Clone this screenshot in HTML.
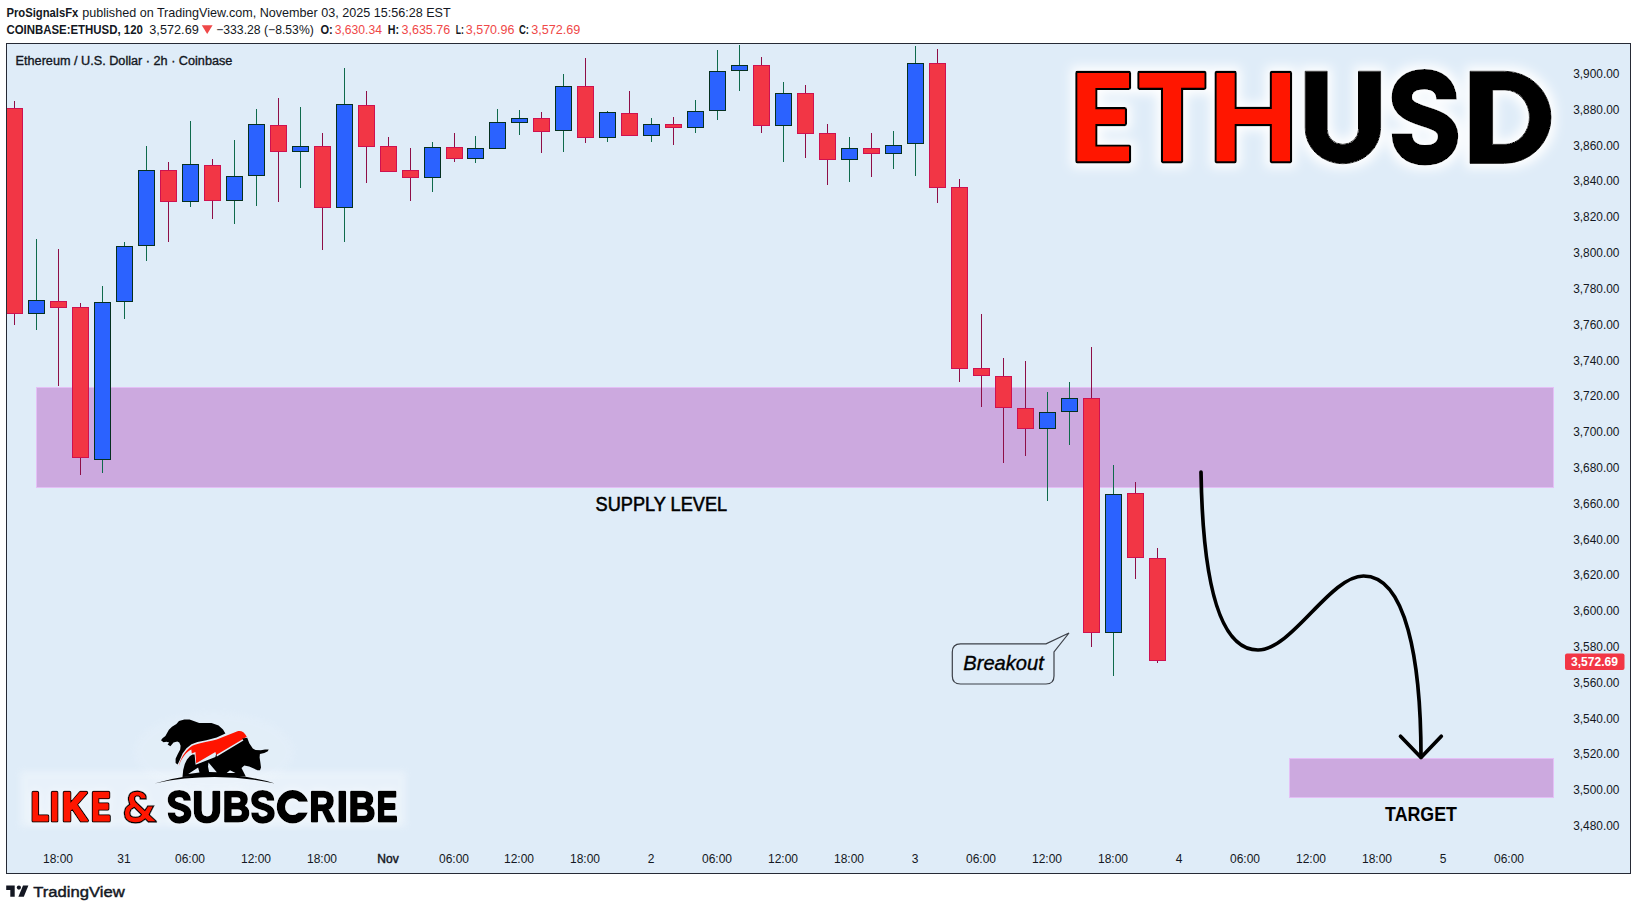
<!DOCTYPE html>
<html><head><meta charset="utf-8"><title>ETHUSD</title>
<style>
html,body{margin:0;padding:0;background:#ffffff;width:1637px;height:910px;overflow:hidden}
svg{display:block;font-family:"Liberation Sans", sans-serif}
</style></head><body>
<svg width="1637" height="910" viewBox="0 0 1637 910">
<defs>
<filter id="soft" x="-20%" y="-50%" width="140%" height="200%"><feGaussianBlur stdDeviation="3"/></filter>
<clipPath id="cclip"><path d="M270,785 H315 V801.7 H297 V812.4 H315 V830 H270 Z"/></clipPath>
<clipPath id="chartclip"><rect x="6" y="43" width="1624.5" height="830"/></clipPath>
<filter id="glow" x="-10%" y="-20%" width="120%" height="140%">
<feMorphology in="SourceAlpha" operator="dilate" radius="3.5" result="d"/>
<feGaussianBlur in="d" stdDeviation="5.5" result="b"/>
<feFlood flood-color="#ffffff" flood-opacity="1"/>
<feComposite in2="b" operator="in" result="g"/>
<feMerge><feMergeNode in="g"/><feMergeNode in="SourceGraphic"/></feMerge>
</filter>
<filter id="glow2" x="-10%" y="-30%" width="120%" height="160%">
<feGaussianBlur in="SourceAlpha" stdDeviation="4" result="b"/>
<feFlood flood-color="#ffffff" flood-opacity="0.6"/>
<feComposite in2="b" operator="in" result="g"/>
<feMerge><feMergeNode in="g"/><feMergeNode in="SourceGraphic"/></feMerge>
</filter>
</defs>
<rect x="6" y="43" width="1625" height="831" fill="#dfecf8"/>
<rect x="36.5" y="387.5" width="1517" height="100" fill="#cca9df" stroke="#e4bff6" stroke-width="1"/>
<rect x="1289.5" y="758.5" width="264" height="39" fill="#cca9df" stroke="#e4bff6" stroke-width="1"/>
<rect x="20" y="771" width="386" height="56" fill="#ffffff" opacity="0.3" filter="url(#soft)"/>
<ellipse cx="214" cy="752" rx="80" ry="40" fill="#ffffff" opacity="0.1" filter="url(#soft)"/>
<g clip-path="url(#chartclip)">
<rect x="14.0" y="101" width="1" height="7" fill="#8e0e47"/>
<rect x="14.0" y="314" width="1" height="11" fill="#8e0e47"/>
<rect x="6.5" y="108.5" width="16" height="205" fill="#f23645" stroke="#cf1150" stroke-width="1"/>
<rect x="36.0" y="239" width="1" height="61" fill="#0f6a4c"/>
<rect x="36.0" y="314" width="1" height="16" fill="#0f6a4c"/>
<rect x="28.5" y="300.5" width="16" height="13" fill="#2b62ff" stroke="#06301f" stroke-width="1"/>
<rect x="58.0" y="249" width="1" height="52" fill="#8e0e47"/>
<rect x="58.0" y="308" width="1" height="78" fill="#8e0e47"/>
<rect x="50.5" y="301.5" width="16" height="6" fill="#f23645" stroke="#cf1150" stroke-width="1"/>
<rect x="80.0" y="303" width="1" height="4" fill="#8e0e47"/>
<rect x="80.0" y="458" width="1" height="17" fill="#8e0e47"/>
<rect x="72.5" y="307.5" width="16" height="150" fill="#f23645" stroke="#cf1150" stroke-width="1"/>
<rect x="102.0" y="286" width="1" height="16" fill="#0f6a4c"/>
<rect x="102.0" y="460" width="1" height="13" fill="#0f6a4c"/>
<rect x="94.5" y="302.5" width="16" height="157" fill="#2b62ff" stroke="#06301f" stroke-width="1"/>
<rect x="124.0" y="242" width="1" height="4" fill="#0f6a4c"/>
<rect x="124.0" y="302" width="1" height="17" fill="#0f6a4c"/>
<rect x="116.5" y="246.5" width="16" height="55" fill="#2b62ff" stroke="#06301f" stroke-width="1"/>
<rect x="146.0" y="146" width="1" height="24" fill="#0f6a4c"/>
<rect x="146.0" y="246" width="1" height="15" fill="#0f6a4c"/>
<rect x="138.5" y="170.5" width="16" height="75" fill="#2b62ff" stroke="#06301f" stroke-width="1"/>
<rect x="168.0" y="162" width="1" height="8" fill="#8e0e47"/>
<rect x="168.0" y="202" width="1" height="40" fill="#8e0e47"/>
<rect x="160.5" y="170.5" width="16" height="31" fill="#f23645" stroke="#cf1150" stroke-width="1"/>
<rect x="190.0" y="121" width="1" height="43" fill="#0f6a4c"/>
<rect x="190.0" y="202" width="1" height="5" fill="#0f6a4c"/>
<rect x="182.5" y="164.5" width="16" height="37" fill="#2b62ff" stroke="#06301f" stroke-width="1"/>
<rect x="212.0" y="159" width="1" height="6" fill="#8e0e47"/>
<rect x="212.0" y="201" width="1" height="18" fill="#8e0e47"/>
<rect x="204.5" y="165.5" width="16" height="35" fill="#f23645" stroke="#cf1150" stroke-width="1"/>
<rect x="234.0" y="140" width="1" height="36" fill="#0f6a4c"/>
<rect x="234.0" y="201" width="1" height="23" fill="#0f6a4c"/>
<rect x="226.5" y="176.5" width="16" height="24" fill="#2b62ff" stroke="#06301f" stroke-width="1"/>
<rect x="256.0" y="109" width="1" height="15" fill="#0f6a4c"/>
<rect x="256.0" y="176" width="1" height="30" fill="#0f6a4c"/>
<rect x="248.5" y="124.5" width="16" height="51" fill="#2b62ff" stroke="#06301f" stroke-width="1"/>
<rect x="278.0" y="98" width="1" height="27" fill="#8e0e47"/>
<rect x="278.0" y="152" width="1" height="50" fill="#8e0e47"/>
<rect x="270.5" y="125.5" width="16" height="26" fill="#f23645" stroke="#cf1150" stroke-width="1"/>
<rect x="300.0" y="107" width="1" height="39" fill="#0f6a4c"/>
<rect x="300.0" y="152" width="1" height="36" fill="#0f6a4c"/>
<rect x="292.5" y="146.5" width="16" height="5" fill="#2b62ff" stroke="#06301f" stroke-width="1"/>
<rect x="322.0" y="133" width="1" height="13" fill="#8e0e47"/>
<rect x="322.0" y="208" width="1" height="42" fill="#8e0e47"/>
<rect x="314.5" y="146.5" width="16" height="61" fill="#f23645" stroke="#cf1150" stroke-width="1"/>
<rect x="344.0" y="68" width="1" height="36" fill="#0f6a4c"/>
<rect x="344.0" y="208" width="1" height="34" fill="#0f6a4c"/>
<rect x="336.5" y="104.5" width="16" height="103" fill="#2b62ff" stroke="#06301f" stroke-width="1"/>
<rect x="366.0" y="91" width="1" height="14" fill="#8e0e47"/>
<rect x="366.0" y="147" width="1" height="36" fill="#8e0e47"/>
<rect x="358.5" y="105.5" width="16" height="41" fill="#f23645" stroke="#cf1150" stroke-width="1"/>
<rect x="388.0" y="137" width="1" height="9" fill="#8e0e47"/>
<rect x="380.5" y="146.5" width="16" height="25" fill="#f23645" stroke="#cf1150" stroke-width="1"/>
<rect x="410.0" y="148" width="1" height="22" fill="#8e0e47"/>
<rect x="410.0" y="178" width="1" height="23" fill="#8e0e47"/>
<rect x="402.5" y="170.5" width="16" height="7" fill="#f23645" stroke="#cf1150" stroke-width="1"/>
<rect x="432.0" y="142" width="1" height="5" fill="#0f6a4c"/>
<rect x="432.0" y="178" width="1" height="14" fill="#0f6a4c"/>
<rect x="424.5" y="147.5" width="16" height="30" fill="#2b62ff" stroke="#06301f" stroke-width="1"/>
<rect x="454.0" y="133" width="1" height="14" fill="#8e0e47"/>
<rect x="454.0" y="159" width="1" height="3" fill="#8e0e47"/>
<rect x="446.5" y="147.5" width="16" height="11" fill="#f23645" stroke="#cf1150" stroke-width="1"/>
<rect x="475.0" y="136" width="1" height="12" fill="#0f6a4c"/>
<rect x="475.0" y="159" width="1" height="4" fill="#0f6a4c"/>
<rect x="467.5" y="148.5" width="16" height="10" fill="#2b62ff" stroke="#06301f" stroke-width="1"/>
<rect x="497.0" y="109" width="1" height="13" fill="#0f6a4c"/>
<rect x="489.5" y="122.5" width="16" height="26" fill="#2b62ff" stroke="#06301f" stroke-width="1"/>
<rect x="519.0" y="110" width="1" height="8" fill="#0f6a4c"/>
<rect x="519.0" y="123" width="1" height="12" fill="#0f6a4c"/>
<rect x="511.5" y="118.5" width="16" height="4" fill="#2b62ff" stroke="#06301f" stroke-width="1"/>
<rect x="541.0" y="112" width="1" height="6" fill="#8e0e47"/>
<rect x="541.0" y="132" width="1" height="21" fill="#8e0e47"/>
<rect x="533.5" y="118.5" width="16" height="13" fill="#f23645" stroke="#cf1150" stroke-width="1"/>
<rect x="563.0" y="74" width="1" height="12" fill="#0f6a4c"/>
<rect x="563.0" y="131" width="1" height="21" fill="#0f6a4c"/>
<rect x="555.5" y="86.5" width="16" height="44" fill="#2b62ff" stroke="#06301f" stroke-width="1"/>
<rect x="585.0" y="58" width="1" height="28" fill="#8e0e47"/>
<rect x="585.0" y="138" width="1" height="5" fill="#8e0e47"/>
<rect x="577.5" y="86.5" width="16" height="51" fill="#f23645" stroke="#cf1150" stroke-width="1"/>
<rect x="607.0" y="111" width="1" height="1" fill="#0f6a4c"/>
<rect x="607.0" y="138" width="1" height="4" fill="#0f6a4c"/>
<rect x="599.5" y="112.5" width="16" height="25" fill="#2b62ff" stroke="#06301f" stroke-width="1"/>
<rect x="629.0" y="91" width="1" height="22" fill="#8e0e47"/>
<rect x="621.5" y="113.5" width="16" height="22" fill="#f23645" stroke="#cf1150" stroke-width="1"/>
<rect x="651.0" y="118" width="1" height="6" fill="#0f6a4c"/>
<rect x="651.0" y="136" width="1" height="6" fill="#0f6a4c"/>
<rect x="643.5" y="124.5" width="16" height="11" fill="#2b62ff" stroke="#06301f" stroke-width="1"/>
<rect x="673.0" y="117" width="1" height="7" fill="#8e0e47"/>
<rect x="673.0" y="128" width="1" height="17" fill="#8e0e47"/>
<rect x="665.5" y="124.5" width="16" height="3" fill="#f23645" stroke="#cf1150" stroke-width="1"/>
<rect x="695.0" y="100" width="1" height="11" fill="#0f6a4c"/>
<rect x="695.0" y="128" width="1" height="5" fill="#0f6a4c"/>
<rect x="687.5" y="111.5" width="16" height="16" fill="#2b62ff" stroke="#06301f" stroke-width="1"/>
<rect x="717.0" y="50" width="1" height="21" fill="#0f6a4c"/>
<rect x="717.0" y="111" width="1" height="9" fill="#0f6a4c"/>
<rect x="709.5" y="71.5" width="16" height="39" fill="#2b62ff" stroke="#06301f" stroke-width="1"/>
<rect x="739.0" y="45" width="1" height="20" fill="#0f6a4c"/>
<rect x="739.0" y="71" width="1" height="20" fill="#0f6a4c"/>
<rect x="731.5" y="65.5" width="16" height="5" fill="#2b62ff" stroke="#06301f" stroke-width="1"/>
<rect x="761.0" y="57" width="1" height="8" fill="#8e0e47"/>
<rect x="761.0" y="126" width="1" height="7" fill="#8e0e47"/>
<rect x="753.5" y="65.5" width="16" height="60" fill="#f23645" stroke="#cf1150" stroke-width="1"/>
<rect x="783.0" y="82" width="1" height="11" fill="#0f6a4c"/>
<rect x="783.0" y="126" width="1" height="36" fill="#0f6a4c"/>
<rect x="775.5" y="93.5" width="16" height="32" fill="#2b62ff" stroke="#06301f" stroke-width="1"/>
<rect x="805.0" y="85" width="1" height="8" fill="#8e0e47"/>
<rect x="805.0" y="134" width="1" height="24" fill="#8e0e47"/>
<rect x="797.5" y="93.5" width="16" height="40" fill="#f23645" stroke="#cf1150" stroke-width="1"/>
<rect x="827.0" y="124" width="1" height="9" fill="#8e0e47"/>
<rect x="827.0" y="160" width="1" height="25" fill="#8e0e47"/>
<rect x="819.5" y="133.5" width="16" height="26" fill="#f23645" stroke="#cf1150" stroke-width="1"/>
<rect x="849.0" y="137" width="1" height="11" fill="#0f6a4c"/>
<rect x="849.0" y="160" width="1" height="22" fill="#0f6a4c"/>
<rect x="841.5" y="148.5" width="16" height="11" fill="#2b62ff" stroke="#06301f" stroke-width="1"/>
<rect x="871.0" y="133" width="1" height="15" fill="#8e0e47"/>
<rect x="871.0" y="154" width="1" height="23" fill="#8e0e47"/>
<rect x="863.5" y="148.5" width="16" height="5" fill="#f23645" stroke="#cf1150" stroke-width="1"/>
<rect x="893.0" y="131" width="1" height="14" fill="#0f6a4c"/>
<rect x="893.0" y="154" width="1" height="15" fill="#0f6a4c"/>
<rect x="885.5" y="145.5" width="16" height="8" fill="#2b62ff" stroke="#06301f" stroke-width="1"/>
<rect x="915.0" y="46" width="1" height="17" fill="#0f6a4c"/>
<rect x="915.0" y="144" width="1" height="32" fill="#0f6a4c"/>
<rect x="907.5" y="63.5" width="16" height="80" fill="#2b62ff" stroke="#06301f" stroke-width="1"/>
<rect x="937.0" y="49" width="1" height="14" fill="#8e0e47"/>
<rect x="937.0" y="188" width="1" height="15" fill="#8e0e47"/>
<rect x="929.5" y="63.5" width="16" height="124" fill="#f23645" stroke="#cf1150" stroke-width="1"/>
<rect x="959.0" y="179" width="1" height="8" fill="#8e0e47"/>
<rect x="959.0" y="369" width="1" height="13" fill="#8e0e47"/>
<rect x="951.5" y="187.5" width="16" height="181" fill="#f23645" stroke="#cf1150" stroke-width="1"/>
<rect x="981.0" y="314" width="1" height="54" fill="#8e0e47"/>
<rect x="981.0" y="376" width="1" height="31" fill="#8e0e47"/>
<rect x="973.5" y="368.5" width="16" height="7" fill="#f23645" stroke="#cf1150" stroke-width="1"/>
<rect x="1003.0" y="358" width="1" height="18" fill="#8e0e47"/>
<rect x="1003.0" y="408" width="1" height="55" fill="#8e0e47"/>
<rect x="995.5" y="376.5" width="16" height="31" fill="#f23645" stroke="#cf1150" stroke-width="1"/>
<rect x="1025.0" y="361" width="1" height="47" fill="#8e0e47"/>
<rect x="1025.0" y="429" width="1" height="27" fill="#8e0e47"/>
<rect x="1017.5" y="408.5" width="16" height="20" fill="#f23645" stroke="#cf1150" stroke-width="1"/>
<rect x="1047.0" y="392" width="1" height="20" fill="#0f6a4c"/>
<rect x="1047.0" y="429" width="1" height="72" fill="#0f6a4c"/>
<rect x="1039.5" y="412.5" width="16" height="16" fill="#2b62ff" stroke="#06301f" stroke-width="1"/>
<rect x="1069.0" y="382" width="1" height="16" fill="#0f6a4c"/>
<rect x="1069.0" y="412" width="1" height="33" fill="#0f6a4c"/>
<rect x="1061.5" y="398.5" width="16" height="13" fill="#2b62ff" stroke="#06301f" stroke-width="1"/>
<rect x="1091.0" y="347" width="1" height="51" fill="#8e0e47"/>
<rect x="1091.0" y="633" width="1" height="14" fill="#8e0e47"/>
<rect x="1083.5" y="398.5" width="16" height="234" fill="#f23645" stroke="#cf1150" stroke-width="1"/>
<rect x="1113.0" y="465" width="1" height="29" fill="#0f6a4c"/>
<rect x="1113.0" y="633" width="1" height="43" fill="#0f6a4c"/>
<rect x="1105.5" y="494.5" width="16" height="138" fill="#2b62ff" stroke="#06301f" stroke-width="1"/>
<rect x="1135.0" y="482" width="1" height="11" fill="#8e0e47"/>
<rect x="1135.0" y="558" width="1" height="21" fill="#8e0e47"/>
<rect x="1127.5" y="493.5" width="16" height="64" fill="#f23645" stroke="#cf1150" stroke-width="1"/>
<rect x="1157.0" y="548" width="1" height="10" fill="#8e0e47"/>
<rect x="1157.0" y="661" width="1" height="2" fill="#8e0e47"/>
<rect x="1149.5" y="558.5" width="16" height="102" fill="#f23645" stroke="#cf1150" stroke-width="1"/>
</g>
<rect x="6.5" y="43.5" width="1624" height="830" fill="none" stroke="#262a35" stroke-width="1"/>
<text x="1573.2" y="78.0" font-size="12" textLength="46.2" lengthAdjust="spacingAndGlyphs" fill="#131722">3,900.00</text>
<text x="1573.2" y="113.8" font-size="12" textLength="46.2" lengthAdjust="spacingAndGlyphs" fill="#131722">3,880.00</text>
<text x="1573.2" y="149.6" font-size="12" textLength="46.2" lengthAdjust="spacingAndGlyphs" fill="#131722">3,860.00</text>
<text x="1573.2" y="185.4" font-size="12" textLength="46.2" lengthAdjust="spacingAndGlyphs" fill="#131722">3,840.00</text>
<text x="1573.2" y="221.2" font-size="12" textLength="46.2" lengthAdjust="spacingAndGlyphs" fill="#131722">3,820.00</text>
<text x="1573.2" y="257.1" font-size="12" textLength="46.2" lengthAdjust="spacingAndGlyphs" fill="#131722">3,800.00</text>
<text x="1573.2" y="292.9" font-size="12" textLength="46.2" lengthAdjust="spacingAndGlyphs" fill="#131722">3,780.00</text>
<text x="1573.2" y="328.7" font-size="12" textLength="46.2" lengthAdjust="spacingAndGlyphs" fill="#131722">3,760.00</text>
<text x="1573.2" y="364.5" font-size="12" textLength="46.2" lengthAdjust="spacingAndGlyphs" fill="#131722">3,740.00</text>
<text x="1573.2" y="400.3" font-size="12" textLength="46.2" lengthAdjust="spacingAndGlyphs" fill="#131722">3,720.00</text>
<text x="1573.2" y="436.1" font-size="12" textLength="46.2" lengthAdjust="spacingAndGlyphs" fill="#131722">3,700.00</text>
<text x="1573.2" y="471.9" font-size="12" textLength="46.2" lengthAdjust="spacingAndGlyphs" fill="#131722">3,680.00</text>
<text x="1573.2" y="507.7" font-size="12" textLength="46.2" lengthAdjust="spacingAndGlyphs" fill="#131722">3,660.00</text>
<text x="1573.2" y="543.5" font-size="12" textLength="46.2" lengthAdjust="spacingAndGlyphs" fill="#131722">3,640.00</text>
<text x="1573.2" y="579.3" font-size="12" textLength="46.2" lengthAdjust="spacingAndGlyphs" fill="#131722">3,620.00</text>
<text x="1573.2" y="615.2" font-size="12" textLength="46.2" lengthAdjust="spacingAndGlyphs" fill="#131722">3,600.00</text>
<text x="1573.2" y="651.0" font-size="12" textLength="46.2" lengthAdjust="spacingAndGlyphs" fill="#131722">3,580.00</text>
<text x="1573.2" y="686.8" font-size="12" textLength="46.2" lengthAdjust="spacingAndGlyphs" fill="#131722">3,560.00</text>
<text x="1573.2" y="722.6" font-size="12" textLength="46.2" lengthAdjust="spacingAndGlyphs" fill="#131722">3,540.00</text>
<text x="1573.2" y="758.4" font-size="12" textLength="46.2" lengthAdjust="spacingAndGlyphs" fill="#131722">3,520.00</text>
<text x="1573.2" y="794.2" font-size="12" textLength="46.2" lengthAdjust="spacingAndGlyphs" fill="#131722">3,500.00</text>
<text x="1573.2" y="830.0" font-size="12" textLength="46.2" lengthAdjust="spacingAndGlyphs" fill="#131722">3,480.00</text>
<rect x="1565" y="653.5" width="59.5" height="16.5" rx="2" fill="#f23645"/>
<text x="1571" y="666" font-size="12" font-weight="bold" textLength="47" lengthAdjust="spacingAndGlyphs" fill="#ffffff">3,572.69</text>
<text x="58.0" y="863" font-size="12" text-anchor="middle" fill="#131722">18:00</text>
<text x="124.0" y="863" font-size="12" text-anchor="middle" fill="#131722">31</text>
<text x="190.0" y="863" font-size="12" text-anchor="middle" fill="#131722">06:00</text>
<text x="256.0" y="863" font-size="12" text-anchor="middle" fill="#131722">12:00</text>
<text x="322.0" y="863" font-size="12" text-anchor="middle" fill="#131722">18:00</text>
<text x="388.0" y="863" font-size="12" stroke="#131722" stroke-width="0.45" text-anchor="middle" fill="#131722">Nov</text>
<text x="454.0" y="863" font-size="12" text-anchor="middle" fill="#131722">06:00</text>
<text x="519.0" y="863" font-size="12" text-anchor="middle" fill="#131722">12:00</text>
<text x="585.0" y="863" font-size="12" text-anchor="middle" fill="#131722">18:00</text>
<text x="651.0" y="863" font-size="12" text-anchor="middle" fill="#131722">2</text>
<text x="717.0" y="863" font-size="12" text-anchor="middle" fill="#131722">06:00</text>
<text x="783.0" y="863" font-size="12" text-anchor="middle" fill="#131722">12:00</text>
<text x="849.0" y="863" font-size="12" text-anchor="middle" fill="#131722">18:00</text>
<text x="915.0" y="863" font-size="12" text-anchor="middle" fill="#131722">3</text>
<text x="981.0" y="863" font-size="12" text-anchor="middle" fill="#131722">06:00</text>
<text x="1047.0" y="863" font-size="12" text-anchor="middle" fill="#131722">12:00</text>
<text x="1113.0" y="863" font-size="12" text-anchor="middle" fill="#131722">18:00</text>
<text x="1179.0" y="863" font-size="12" text-anchor="middle" fill="#131722">4</text>
<text x="1245.0" y="863" font-size="12" text-anchor="middle" fill="#131722">06:00</text>
<text x="1311.0" y="863" font-size="12" text-anchor="middle" fill="#131722">12:00</text>
<text x="1377.0" y="863" font-size="12" text-anchor="middle" fill="#131722">18:00</text>
<text x="1443.0" y="863" font-size="12" text-anchor="middle" fill="#131722">5</text>
<text x="1509.0" y="863" font-size="12" text-anchor="middle" fill="#131722">06:00</text>
<text x="6.4" y="16.7" font-size="12.2" font-weight="bold" fill="#131722" textLength="72" lengthAdjust="spacingAndGlyphs">ProSignalsFx</text>
<text x="82.3" y="16.7" font-size="12.2" fill="#131722" textLength="368.3" lengthAdjust="spacingAndGlyphs">published on TradingView.com, November 03, 2025 15:56:28 EST</text>
<text x="6.4" y="33.9" font-size="12.2" font-weight="bold" fill="#131722" textLength="136.5" lengthAdjust="spacingAndGlyphs">COINBASE:ETHUSD, 120</text>
<text x="149.3" y="33.9" font-size="12.2" fill="#131722" textLength="49.5" lengthAdjust="spacingAndGlyphs">3,572.69</text>
<path d="M201.8 25.2 L212.6 25.2 L207.2 34 Z" fill="#ef4848"/>
<text x="216.2" y="33.9" font-size="12.2" fill="#131722" textLength="97.6" lengthAdjust="spacingAndGlyphs">&#8722;333.28 (&#8722;8.53%)</text>
<text x="320.5" y="33.9" font-size="12.2" font-weight="bold" fill="#131722" textLength="12.3" lengthAdjust="spacingAndGlyphs">O:</text>
<text x="334.7" y="33.9" font-size="12.2" fill="#ef4848" textLength="47.3" lengthAdjust="spacingAndGlyphs">3,630.34</text>
<text x="387.7" y="33.9" font-size="12.2" font-weight="bold" fill="#131722" textLength="11.3" lengthAdjust="spacingAndGlyphs">H:</text>
<text x="401.5" y="33.9" font-size="12.2" fill="#ef4848" textLength="48.7" lengthAdjust="spacingAndGlyphs">3,635.76</text>
<text x="455.8" y="33.9" font-size="12.2" font-weight="bold" fill="#131722" textLength="8.2" lengthAdjust="spacingAndGlyphs">L:</text>
<text x="465.8" y="33.9" font-size="12.2" fill="#ef4848" textLength="48.6" lengthAdjust="spacingAndGlyphs">3,570.96</text>
<text x="519" y="33.9" font-size="12.2" font-weight="bold" fill="#131722" textLength="10.0" lengthAdjust="spacingAndGlyphs">C:</text>
<text x="531.3" y="33.9" font-size="12.2" fill="#ef4848" textLength="49.1" lengthAdjust="spacingAndGlyphs">3,572.69</text>
<text x="15.6" y="65.1" font-size="12.3" fill="#131722" stroke="#131722" stroke-width="0.35" textLength="216.8" lengthAdjust="spacingAndGlyphs">Ethereum / U.S. Dollar &#183; 2h &#183; Coinbase</text>
<text x="595.6" y="511.1" font-size="19.3" fill="#000" stroke="#000" stroke-width="0.55" textLength="131.5" lengthAdjust="spacingAndGlyphs">SUPPLY LEVEL</text>
<text x="1385.1" y="821.1" font-size="19.3" font-weight="bold" fill="#000" textLength="71.8" lengthAdjust="spacingAndGlyphs">TARGET</text>
<path d="M960.5 643.8 L1046 643.8 L1069 633 L1054 652 L1054 676 Q1054 684 1046 684 L960.5 684 Q952.3 684 952.3 676 L952.3 652 Q952.3 643.8 960.5 643.8 Z" fill="none" stroke="#3c4048" stroke-width="1.2"/>
<text x="963.3" y="670" font-size="19.8" font-style="italic" fill="#000" stroke="#000" stroke-width="0.35" textLength="80.5" lengthAdjust="spacingAndGlyphs">Breakout</text>
<path d="M1201 472 C1203 600 1225 650 1258 650 C1292 650 1330 576 1363.5 576 C1406 576 1421 660 1421 757" fill="none" stroke="#000" stroke-width="3.7" stroke-linecap="round"/>
<path d="M1400.5 736.3 L1421 757.5 L1441.3 736.3" fill="none" stroke="#000" stroke-width="3.7" stroke-linecap="round" stroke-linejoin="round"/>
<g filter="url(#glow)">
<g fill="#ff1400" stroke="#000" stroke-width="4.3" stroke-linejoin="round" paint-order="stroke">
<path d="M1077.3,72.9 H1129 V87.9 H1095.4 V109.2 H1124.9 V124 H1095.4 V146.6 H1129 V161.3 H1077.3 Z"/>
<path d="M1139.3,72.9 H1204.5 V87.8 H1181.1 V161.3 H1163 V87.8 H1139.3 Z"/>
<path d="M1216.6,72.9 H1234.7 V109 H1271.8 V72.9 H1290 V161.3 H1271.8 V124.1 H1234.7 V161.3 H1216.6 Z"/>
</g>
<g fill="#000" stroke="#000" stroke-width="1" stroke-linejoin="round">
<path d="M1305.1,71.2 H1327.2 V129.3 A15.15,14.5 0 0 0 1358.5,129.3 V71.2 H1380.6 V128.3 A37.75,35.5 0 0 1 1305.1,128.3 Z"/>
<path fill-rule="evenodd" d="M1470,71.2 H1504.5 A46.6,46.1 0 0 1 1504.5,163.4 H1470 Z M1492.6,90 V144.3 H1505 A24.4,27.15 0 0 0 1505,90 Z"/>
</g>
<path d="M1446.5,99.6 C1446.5,86 1437,79.3 1424.5,79.3 C1411,79.3 1401.8,86 1401.8,97.5 C1401.8,108.5 1412,112.5 1424.5,116.5 C1437.5,120.5 1448,124.5 1448,136 C1448,148.5 1437.5,155.2 1425,155.2 C1411,155.2 1402,147.5 1402,133.6" fill="none" stroke="#000" stroke-width="20.5"/>
</g>
<g filter="url(#glow2)">
<path d="M137 0V1409H432V228H1188V0Z" transform="matrix(0.01351,0,0,-0.01987,31.449,820.700)" fill="#000" stroke="#000" stroke-width="3.8" stroke-linejoin="round" vector-effect="non-scaling-stroke"/>
<path d="M137 0V1409H432V0Z" transform="matrix(0.01356,0,0,-0.01987,50.742,820.700)" fill="#000" stroke="#000" stroke-width="3.8" stroke-linejoin="round" vector-effect="non-scaling-stroke"/>
<path d="M1112 0 606 647 432 514V0H137V1409H432V770L1067 1409H1411L809 813L1460 0Z" transform="matrix(0.01716,0,0,-0.01987,62.149,820.700)" fill="#000" stroke="#000" stroke-width="3.8" stroke-linejoin="round" vector-effect="non-scaling-stroke"/>
<path d="M137 0V1409H1245V1181H432V827H1184V599H432V228H1286V0Z" transform="matrix(0.01340,0,0,-0.01987,91.764,820.700)" fill="#000" stroke="#000" stroke-width="3.8" stroke-linejoin="round" vector-effect="non-scaling-stroke"/>
<path d="M137 0V1409H432V228H1188V0Z" transform="matrix(0.01351,0,0,-0.01987,31.449,820.700)" fill="#ff1400" stroke="#ff1400" stroke-width="1.8" stroke-linejoin="round" vector-effect="non-scaling-stroke"/>
<path d="M137 0V1409H432V0Z" transform="matrix(0.01356,0,0,-0.01987,50.742,820.700)" fill="#ff1400" stroke="#ff1400" stroke-width="1.8" stroke-linejoin="round" vector-effect="non-scaling-stroke"/>
<path d="M1112 0 606 647 432 514V0H137V1409H432V770L1067 1409H1411L809 813L1460 0Z" transform="matrix(0.01716,0,0,-0.01987,62.149,820.700)" fill="#ff1400" stroke="#ff1400" stroke-width="1.8" stroke-linejoin="round" vector-effect="non-scaling-stroke"/>
<path d="M137 0V1409H1245V1181H432V827H1184V599H432V228H1286V0Z" transform="matrix(0.01340,0,0,-0.01987,91.764,820.700)" fill="#ff1400" stroke="#ff1400" stroke-width="1.8" stroke-linejoin="round" vector-effect="non-scaling-stroke"/>
<path fill-rule="evenodd" d="M146.62,799.39 L146.62,796.62 L145.70,794.31 L143.85,792.46 L141.08,791.17 L137.39,790.62 L132.77,791.31 L130.00,792.93 L128.85,794.77 L127.93,797.54 L127.93,799.85 L128.39,802.16 L129.08,804.01 L127.23,805.39 L125.39,807.24 L124.46,809.55 L123.77,812.78 L124.46,817.39 L125.85,819.70 L128.62,822.01 L131.39,822.93 L135.54,823.40 L140.16,822.93 L142.47,821.78 L145.24,819.70 L148.01,822.47 L156.78,822.47 L156.78,821.09 L149.86,814.62 L154.47,805.39 L147.55,805.39 L144.78,809.55 L136.47,801.70 L135.17,799.39 L135.31,797.54 L136.47,796.53 L138.31,796.53 L139.70,797.77 L139.70,799.39 Z M130.47,812.78 L131.16,810.47 L131.85,809.55 L134.16,808.16 L140.62,814.62 L139.70,815.78 L137.85,816.47 L135.54,816.70 L133.24,816.47 L131.62,815.78 L130.93,815.09 Z" fill="#000" stroke="#000" stroke-width="0.4" stroke-linejoin="round"/>
<path fill-rule="evenodd" d="M145.52,798.29 L145.52,796.83 L144.76,794.93 L143.21,793.38 L140.76,792.24 L137.39,791.73 L133.15,792.37 L130.79,793.74 L129.85,795.24 L129.03,797.72 L129.03,799.74 L129.45,801.86 L130.40,804.39 L127.96,806.22 L126.32,807.86 L125.52,809.87 L124.89,812.81 L125.52,817.02 L126.70,818.98 L129.16,821.03 L131.63,821.85 L135.55,822.29 L139.85,821.86 L141.89,820.84 L145.34,818.25 L148.46,821.37 L155.47,821.37 L148.50,814.87 L152.69,806.49 L148.14,806.49 L144.97,811.24 L135.59,802.38 L134.05,799.64 L134.25,797.01 L136.05,795.43 L138.74,795.43 L140.80,797.28 L140.80,798.29 Z M129.33,812.72 L130.16,809.97 L131.10,808.71 L134.33,806.78 L142.10,814.54 L140.37,816.70 L138.10,817.55 L135.54,817.81 L132.96,817.55 L130.99,816.71 L129.91,815.63 Z" fill="#ff1400"/>
<path d="M1446.5,99.6 C1446.5,86 1437,79.3 1424.5,79.3 C1411,79.3 1401.8,86 1401.8,97.5 C1401.8,108.5 1412,112.5 1424.5,116.5 C1437.5,120.5 1448,124.5 1448,136 C1448,148.5 1437.5,155.2 1425,155.2 C1411,155.2 1402,147.5 1402,133.6" transform="matrix(0.3527,0,0,0.3491,-323.00,765.88)" fill="none" stroke="#000" stroke-width="21"/>
<path d="M1446.5,99.6 C1446.5,86 1437,79.3 1424.5,79.3 C1411,79.3 1401.8,86 1401.8,97.5 C1401.8,108.5 1412,112.5 1424.5,116.5 C1437.5,120.5 1448,124.5 1448,136 C1448,148.5 1437.5,155.2 1425,155.2 C1411,155.2 1402,147.5 1402,133.6" transform="matrix(0.3527,0,0,0.3491,-239.60,765.88)" fill="none" stroke="#000" stroke-width="21"/>
<g clip-path="url(#cclip)"><ellipse cx="292.7" cy="806.75" rx="11.8" ry="12.5" fill="none" stroke="#000" stroke-width="8.4"/></g>
<path d="M723 -20Q432 -20 277.5 122.0Q123 264 123 528V1409H418V551Q418 384 497.5 297.5Q577 211 731 211Q889 211 974.0 301.5Q1059 392 1059 561V1409H1354V543Q1354 275 1188.5 127.5Q1023 -20 723 -20Z" transform="matrix(0.01974,0,0,-0.02127,192.472,821.875)" fill="#000" stroke="#000" stroke-width="2.2" stroke-linejoin="round" vector-effect="non-scaling-stroke"/>
<path d="M1386 402Q1386 210 1242.0 105.0Q1098 0 842 0H137V1409H782Q1040 1409 1172.5 1319.5Q1305 1230 1305 1055Q1305 935 1238.5 852.5Q1172 770 1036 741Q1207 721 1296.5 633.5Q1386 546 1386 402ZM1008 1015Q1008 1110 947.5 1150.0Q887 1190 768 1190H432V841H770Q895 841 951.5 884.5Q1008 928 1008 1015ZM1090 425Q1090 623 806 623H432V219H817Q959 219 1024.5 270.5Q1090 322 1090 425Z" transform="matrix(0.01849,0,0,-0.02101,222.666,821.500)" fill="#000" stroke="#000" stroke-width="2.2" stroke-linejoin="round" vector-effect="non-scaling-stroke"/>
<path d="M1105 0 778 535H432V0H137V1409H841Q1093 1409 1230.0 1300.5Q1367 1192 1367 989Q1367 841 1283.0 733.5Q1199 626 1056 592L1437 0ZM1070 977Q1070 1180 810 1180H432V764H818Q942 764 1006.0 820.0Q1070 876 1070 977Z" transform="matrix(0.01685,0,0,-0.02101,309.692,821.500)" fill="#000" stroke="#000" stroke-width="2.2" stroke-linejoin="round" vector-effect="non-scaling-stroke"/>
<path d="M137 0V1409H432V0Z" transform="matrix(0.01864,0,0,-0.02101,336.946,821.500)" fill="#000" stroke="#000" stroke-width="2.2" stroke-linejoin="round" vector-effect="non-scaling-stroke"/>
<path d="M1386 402Q1386 210 1242.0 105.0Q1098 0 842 0H137V1409H782Q1040 1409 1172.5 1319.5Q1305 1230 1305 1055Q1305 935 1238.5 852.5Q1172 770 1036 741Q1207 721 1296.5 633.5Q1386 546 1386 402ZM1008 1015Q1008 1110 947.5 1150.0Q887 1190 768 1190H432V841H770Q895 841 951.5 884.5Q1008 928 1008 1015ZM1090 425Q1090 623 806 623H432V219H817Q959 219 1024.5 270.5Q1090 322 1090 425Z" transform="matrix(0.01801,0,0,-0.02101,348.732,821.500)" fill="#000" stroke="#000" stroke-width="2.2" stroke-linejoin="round" vector-effect="non-scaling-stroke"/>
<path d="M137 0V1409H1245V1181H432V827H1184V599H432V228H1286V0Z" transform="matrix(0.01471,0,0,-0.02101,376.985,821.500)" fill="#000" stroke="#000" stroke-width="2.2" stroke-linejoin="round" vector-effect="non-scaling-stroke"/>
</g>
<g id="logo"><path d="M154.4,783.4 Q214.6,765.8 274.8,783.4 Q214.6,770.6 154.4,783.4 Z" fill="#000"/><path d="M161,740.3 L162.5,738.2 L165.4,736 L168.9,729.8 L172,726.7 L176.4,724.1 L179,721 L184.3,719.5 L189.6,719.5 L199.2,723 L211.5,723 L218.6,725.6 L223,729.5 L225.4,733.6 L216.7,737.6 L206.3,740.3 L197.5,741.9 L191.5,744.3 L186.5,748.3 L182.6,753.5 L180,759.5 L177.6,764.6 L175.6,763 L175.6,758.7 L177.8,754.1 L180.2,749.4 L180.6,745.8 L179.3,742.6 L177.3,741.6 L173.5,742.6 L170.4,746.2 L167.6,744.6 L169.2,742.6 L166.5,741.8 L163.5,742.2 Z" fill="#000"/><path d="M178.6,766.5 C181,757 186,750 192.3,745.8 C197,743.5 206,742 216.7,739.5 L237.5,731.2 C241,730.3 244.3,731.8 246.8,736.7 L242.7,739.2 L216.2,755 L215.4,752 L196.2,763.2 L195.4,752 L191.8,753.6 L191.3,749.6 C186,752.5 181.5,758 178.6,766.5 Z" fill="#ff1400"/><path fill-rule="evenodd" d="M182.5,777 L183.2,770 L184.8,764 L187,759.5 L190,756 L192.5,754.6 L194.6,754.6 L195.6,764.8 L215.4,756.9 L216.2,753.6 L216.9,756.6 L243.4,740.6 L242.2,738.6 L247.2,737.8 L249.3,743.2 L252.8,748.5 L255.5,749.9 L260.8,750.3 L265,749.4 L268.7,749.6 L267.8,751.3 L264.3,753.1 L259.9,754 L259.6,757.5 L260.4,762.7 L261,767.6 L260,770.2 L257.5,770.2 L249.2,766.5 L244.3,765.4 L241.5,768.1 L245.8,776.5 L214,775.5 Z M188.2,774 L198.1,767.5 L199.5,772.6 Z M208.5,762.4 L216.8,772.3 L209.1,772 L208,766.5 Z M226.7,772.9 L230,770.3 L235.5,773.1 Z" fill="#000"/></g>
<g fill="#131722">
<path d="M6.2,885.5 H14.7 V896.8 H10.3 V889.9 H6.2 Z"/>
<circle cx="18.9" cy="887.6" r="2.1"/>
<path d="M23,885.5 H28.4 L23.8,896.8 H18.4 Z"/>
<text x="33.2" y="896.8" font-size="15.5" stroke="#131722" stroke-width="0.45" textLength="91.5" lengthAdjust="spacingAndGlyphs">TradingView</text>
</g>
</svg>
</body></html>
